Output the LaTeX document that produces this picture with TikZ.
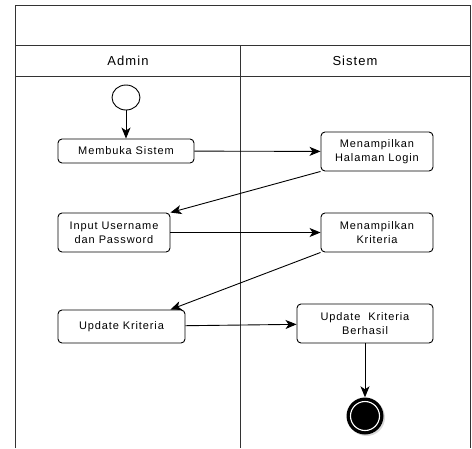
\documentclass[tikz,border=0pt]{standalone}
\usepackage{fontspec}
\setmainfont{Liberation Sans}[LetterSpace=8]
\usetikzlibrary{arrows.meta,shadows,shapes.geometric}

\begin{document}
\begin{tikzpicture}[x=1pt, y=-1pt,
		every node/.style={font=\fontsize{11}{14}\selectfont, inner sep=0pt},
		act/.style={rectangle, rounded corners=4pt, draw=black, line width=0.9pt, align=center},
		flow/.style={draw=black, line width=0.9pt, -{Stealth[length=11pt, width=9pt, inset=3pt]}},
		lane/.style={draw=black!80, line width=0.9pt}]
				\useasboundingbox (0,0) rectangle (472,448);
				
				% swimlanes
				\path[lane] (15,448) -- (15,5) -- (470,5) -- (470,448);
				\path[lane] (15,45) -- (470,45);
				\path[lane] (15,76) -- (470,76);
				\path[lane] (240.5,45) -- (240.5,448);
				\node[font=\fontsize{13}{15}\selectfont] (h1) at (128,61){Admin};
				\node[font=\fontsize{13}{15}\selectfont] (h2) at (355,61){Sistem};
				
				\node[ellipse, draw=black, line width=0.9pt, minimum width=28pt, minimum height=25pt] (s) at (126,97.5){};
				\node[act, minimum width=136pt, minimum height=24pt] (a) at (126,151){Membuka Sistem};
				\node[act, minimum width=112pt, minimum height=39pt] (b) at (377,151.5){Menampilkan\\Halaman Login};
				\node[act, minimum width=112pt, minimum height=39pt] (c) at (114,232.5){Input Username\\dan Password};
				\node[act, minimum width=112pt, minimum height=39pt] (d) at (377,232.5){Menampilkan\\Kriteria};
				\node[act, minimum width=127pt, minimum height=33pt] (e) at (121.5,326.5){Update Kriteria};
				\node[act, minimum width=136pt, minimum height=39pt] (f) at (365,323.5){Update~ Kriteria\\Berhasil};
				\node[circle, fill=black, minimum size=37pt, drop shadow={opacity=0.3, shadow xshift=1.5pt, shadow yshift=-1.5pt}] (z) at (365,416){};
				\node[circle, draw=white, line width=1.1pt, minimum size=29pt] (z1) at (z){};
				
				\path[flow] (s) -- (a);
				\path[flow] (a) -- (b);
				\path[flow] (b.south west) -- (c.north east);
				\path[flow] (c) -- (d);
				\path[flow] (d.south west) -- ([xshift=-15pt]e.north east);
				\path[flow] (e) -- (f);
				\path[flow] (f) -- (z);
				\end{tikzpicture}
\end{document}
